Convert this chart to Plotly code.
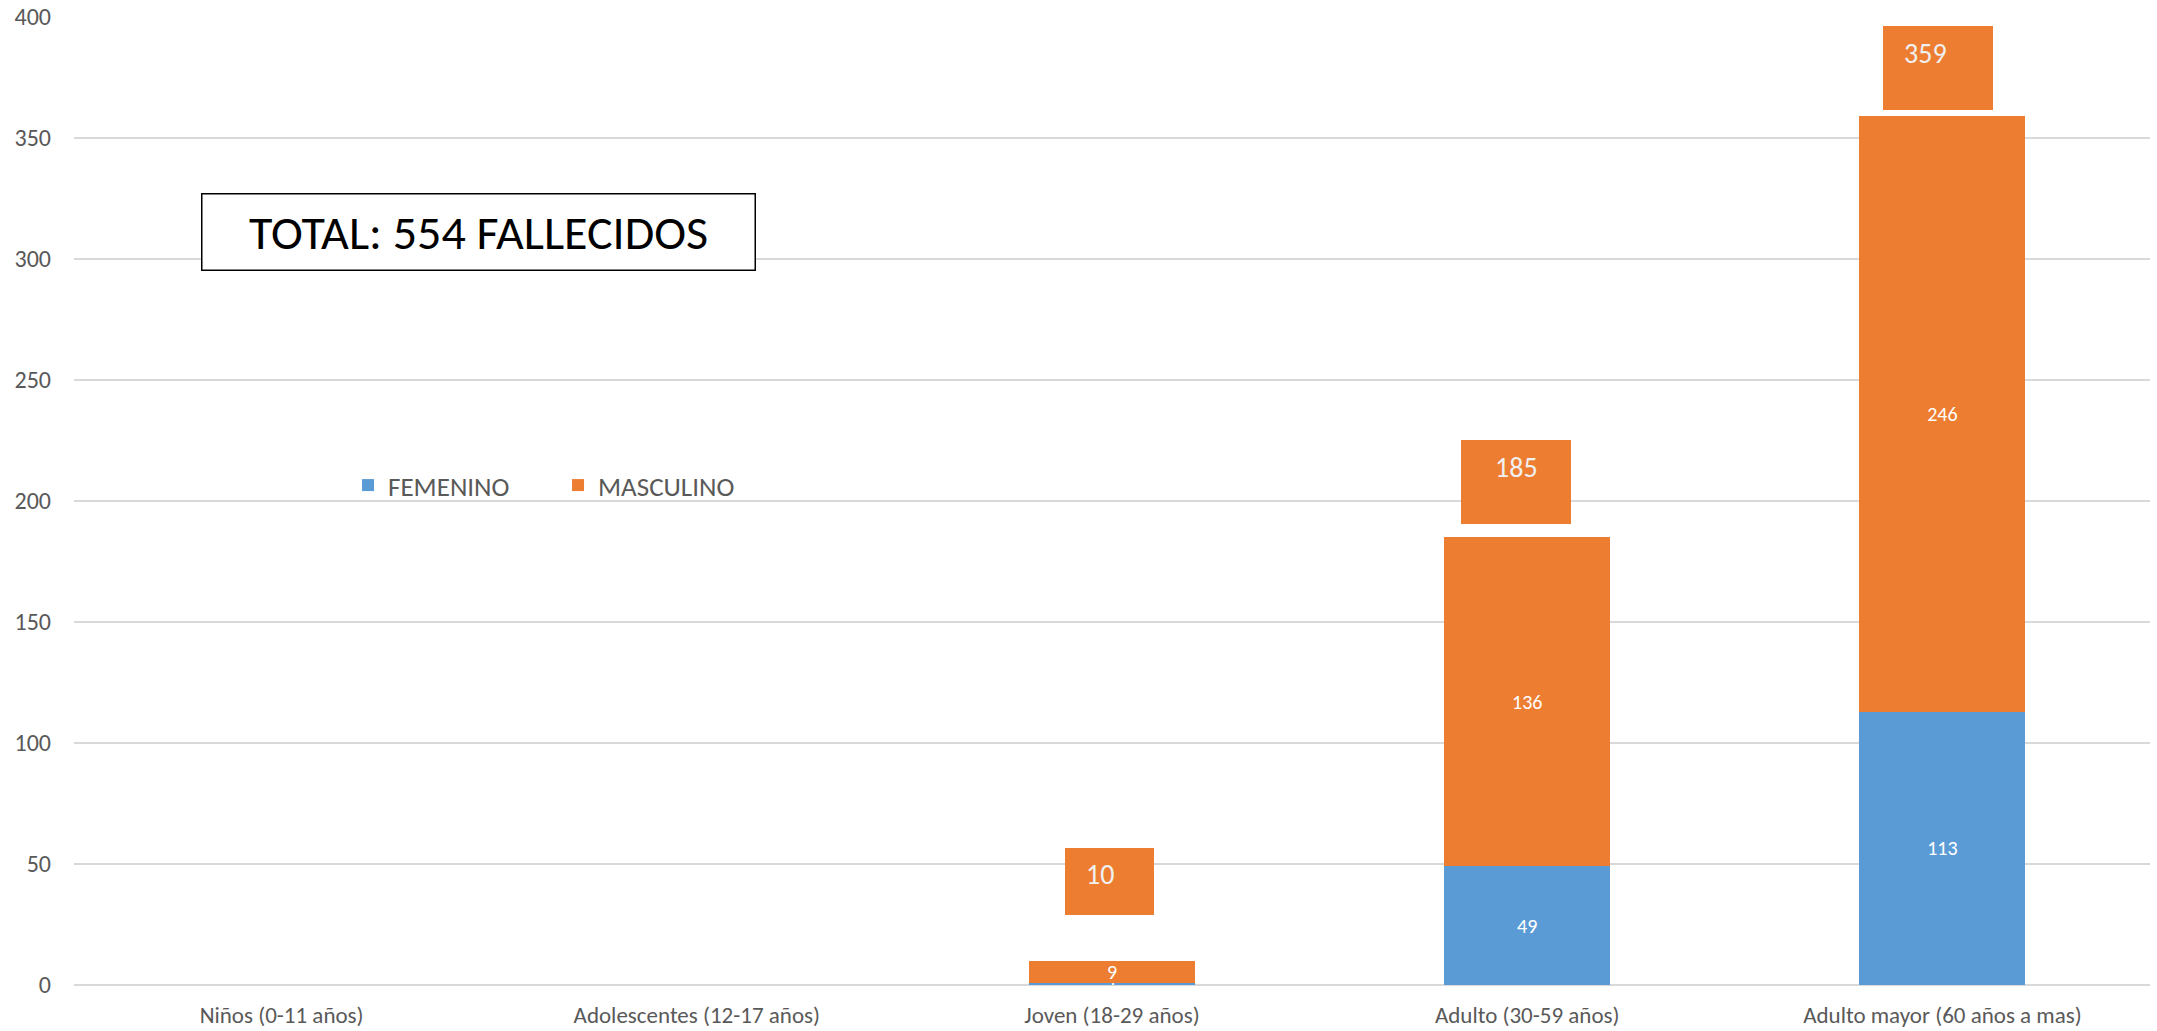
import plotly.graph_objects as go

# ── Data ──────────────────────────────────────────────────────────────────────

categories = [
    "Niños (0-11 años)",
    "Adolescentes (12-17 años)",
    "Joven (18-29 años)",
    "Adulto (30-59 años)",
    "Adulto mayor (60 años a mas)",
]
femenino  = [0, 0, 1, 49, 113]
masculino = [0, 0, 9, 136, 246]
total_label = "TOTAL: 554 FALLECIDOS"

# categories that get a "total" box above the stack
total_idx = [2, 3, 4]

BLUE   = "#5B9BD5"
ORANGE = "#ED7D31"
GREY   = "#595959"
GRID   = "#D9D9D9"
FONT   = "Carlito, Calibri, Open Sans, sans-serif"

# ── Figure ────────────────────────────────────────────────────────────────────

fig = go.Figure()
for name, vals, col in [("FEMENINO", femenino, BLUE), ("MASCULINO", masculino, ORANGE)]:
    fig.add_trace(go.Bar(
        x=categories, y=vals, name=name, marker=dict(color=col, line=dict(width=0)),
        text=vals, texttemplate="%{y}", textposition="inside", insidetextanchor="middle",
        constraintext="none", textangle=0,
        textfont=dict(color="white", size=20, family=FONT),
    ))

# total boxes: (box w, box h, box xshift, box yshift, text xshift)
# the Excel labels are not uniformly placed, so each one gets its own offsets
box_style = {
    2: (89, 67, -3, 46, -12),
    3: (110, 84, -11, 13, -11),
    4: (110, 84, -4, 6, -17),
}
for i in total_idx:
    tot = femenino[i] + masculino[i]
    w, h, bx, by, tx = box_style[i]
    fig.add_annotation(
        x=categories[i], y=tot, xref="x", yref="y", yanchor="bottom", xanchor="center",
        text=" ", showarrow=False, width=w, height=h,
        bgcolor=ORANGE, borderpad=0, borderwidth=0, xshift=bx, yshift=by,
    )
    fig.add_annotation(
        x=categories[i], y=tot, xref="x", yref="y", yanchor="middle", xanchor="center",
        text=str(tot), showarrow=False, xshift=tx, yshift=by + h - 27,
        font=dict(color="#F0F0F0", size=28, family=FONT),
    )

fig.add_annotation(
    x=0.195, y=0.778, xref="paper", yref="paper", xanchor="center", yanchor="middle",
    text=total_label, showarrow=False, width=552, height=75, bgcolor="white",
    bordercolor="black", borderwidth=1.5, borderpad=0,
    font=dict(color="black", size=48, family=FONT),
)

fig.update_layout(
    barmode="stack", bargap=0.6,
    width=2157, height=1031,
    margin=dict(l=74, r=7, t=17, b=46, autoexpand=False),
    plot_bgcolor="white", paper_bgcolor="white",
    showlegend=True,
    legend=dict(
        orientation="h", traceorder="normal",
        x=0.132, y=0.516, xanchor="left", yanchor="middle",
        font=dict(size=27, color=GREY, family=FONT),
        entrywidth=165, entrywidthmode="pixels", bgcolor="rgba(0,0,0,0)",
    ),
    font=dict(family=FONT, color=GREY),
)
fig.update_yaxes(
    range=[0, 400], dtick=50, showgrid=True, gridcolor=GRID, gridwidth=1.5,
    zeroline=True, zerolinecolor=GRID, zerolinewidth=1.5, showline=False,
    tickfont=dict(family=FONT, size=24, color=GREY), ticks="", ticklabelstandoff=22,
    ticklabeloverflow="allow", automargin=False,
)
fig.update_xaxes(
    showgrid=False, showline=False, ticks="", automargin=False,
    tickfont=dict(size=23, color=GREY, family=FONT), ticklabelstandoff=14,
)

# drop the default 8px body margin so the figure fills the window exactly
fig.write_html(
    "out.html",
    config={"displayModeBar": False},
    post_script="document.body.style.margin = '0';",
)
